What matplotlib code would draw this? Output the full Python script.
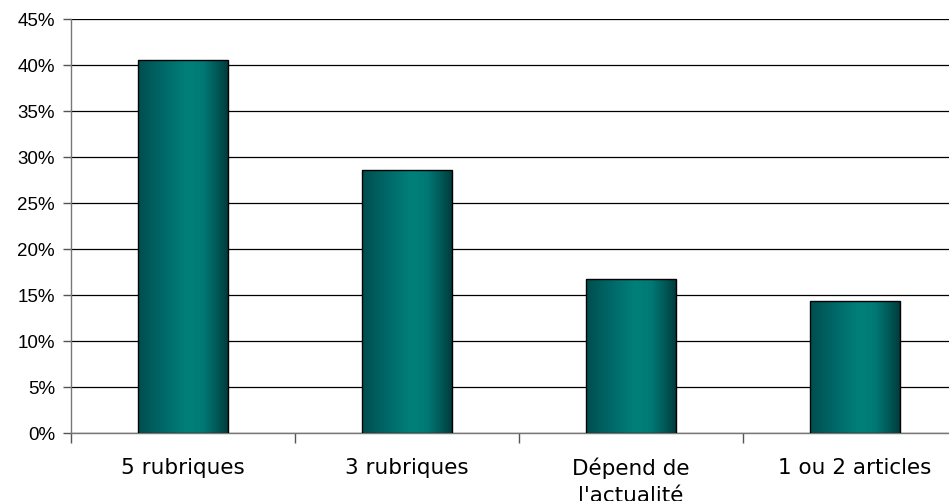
#!/usr/bin/env python3
import numpy as np
import matplotlib
matplotlib.use('Agg')
import matplotlib.pyplot as plt
from matplotlib.colors import LinearSegmentedColormap
from matplotlib.ticker import FuncFormatter

categories = ['5 rubriques', '3 rubriques', 'Dépend de\nl\'actualité', '1 ou 2 articles']
shares = [40.5, 28.6, 16.7, 14.3]
yticks = list(range(0, 50, 5))

BAR_WIDTH = 0.4

# teal shading across each bar: dark edges, light band just right of middle
teal = LinearSegmentedColormap.from_list(
    'teal', [(0.0, '#004e4e'), (0.25, '#006666'), (0.55, '#00807a'),
             (0.72, '#007a76'), (0.9, '#005454'), (1.0, '#003c3c')])


def main():
    fig = plt.figure(figsize=(9.49, 5.02), dpi=100)
    ax = fig.add_axes([71 / 949, 68 / 502, 896 / 949, 414 / 502])

    xs = np.arange(len(categories))
    bars = ax.bar(xs, shares, width=BAR_WIDTH, color='none',
                  edgecolor='black', linewidth=1.0, zorder=3)
    grad = np.linspace(0, 1, 256).reshape(1, -1)
    for bar in bars:
        x0, y0 = bar.get_x(), bar.get_y()
        w, h = bar.get_width(), bar.get_height()
        im = ax.imshow(grad, cmap=teal, aspect='auto', zorder=2,
                       extent=[x0, x0 + w, y0, y0 + h], interpolation='bicubic')
        im.set_clip_path(bar)

    ax.set_xlim(-0.5, len(categories) - 0.5)
    ax.set_ylim(0, 45)
    ax.set_yticks(yticks)
    ax.yaxis.set_major_formatter(FuncFormatter(lambda v, p: '{:d}%'.format(int(v))))
    ax.yaxis.grid(True, color='black', linewidth=0.9, zorder=1)
    ax.set_axisbelow(True)

    ax.set_xticks(xs)
    ax.set_xticklabels(categories, fontsize=15.5, linespacing=1.4,
                       family='DejaVu Sans')
    ax.set_xticks(np.arange(len(categories) + 1) - 0.5, minor=True)
    ax.tick_params(axis='x', which='major', length=0, pad=17)
    ax.tick_params(axis='x', which='minor', length=7, width=1, color='#555555')
    ax.tick_params(axis='y', length=6, width=1, color='#555555', pad=5.5,
                   labelsize=13.5, labelfontfamily='Liberation Sans')

    for side in ('top', 'right'):
        ax.spines[side].set_visible(False)
    for side in ('left', 'bottom'):
        ax.spines[side].set_color('#777777')
        ax.spines[side].set_linewidth(1.0)

    fig.savefig('out.png', dpi=100)


if __name__ == '__main__':
    main()
